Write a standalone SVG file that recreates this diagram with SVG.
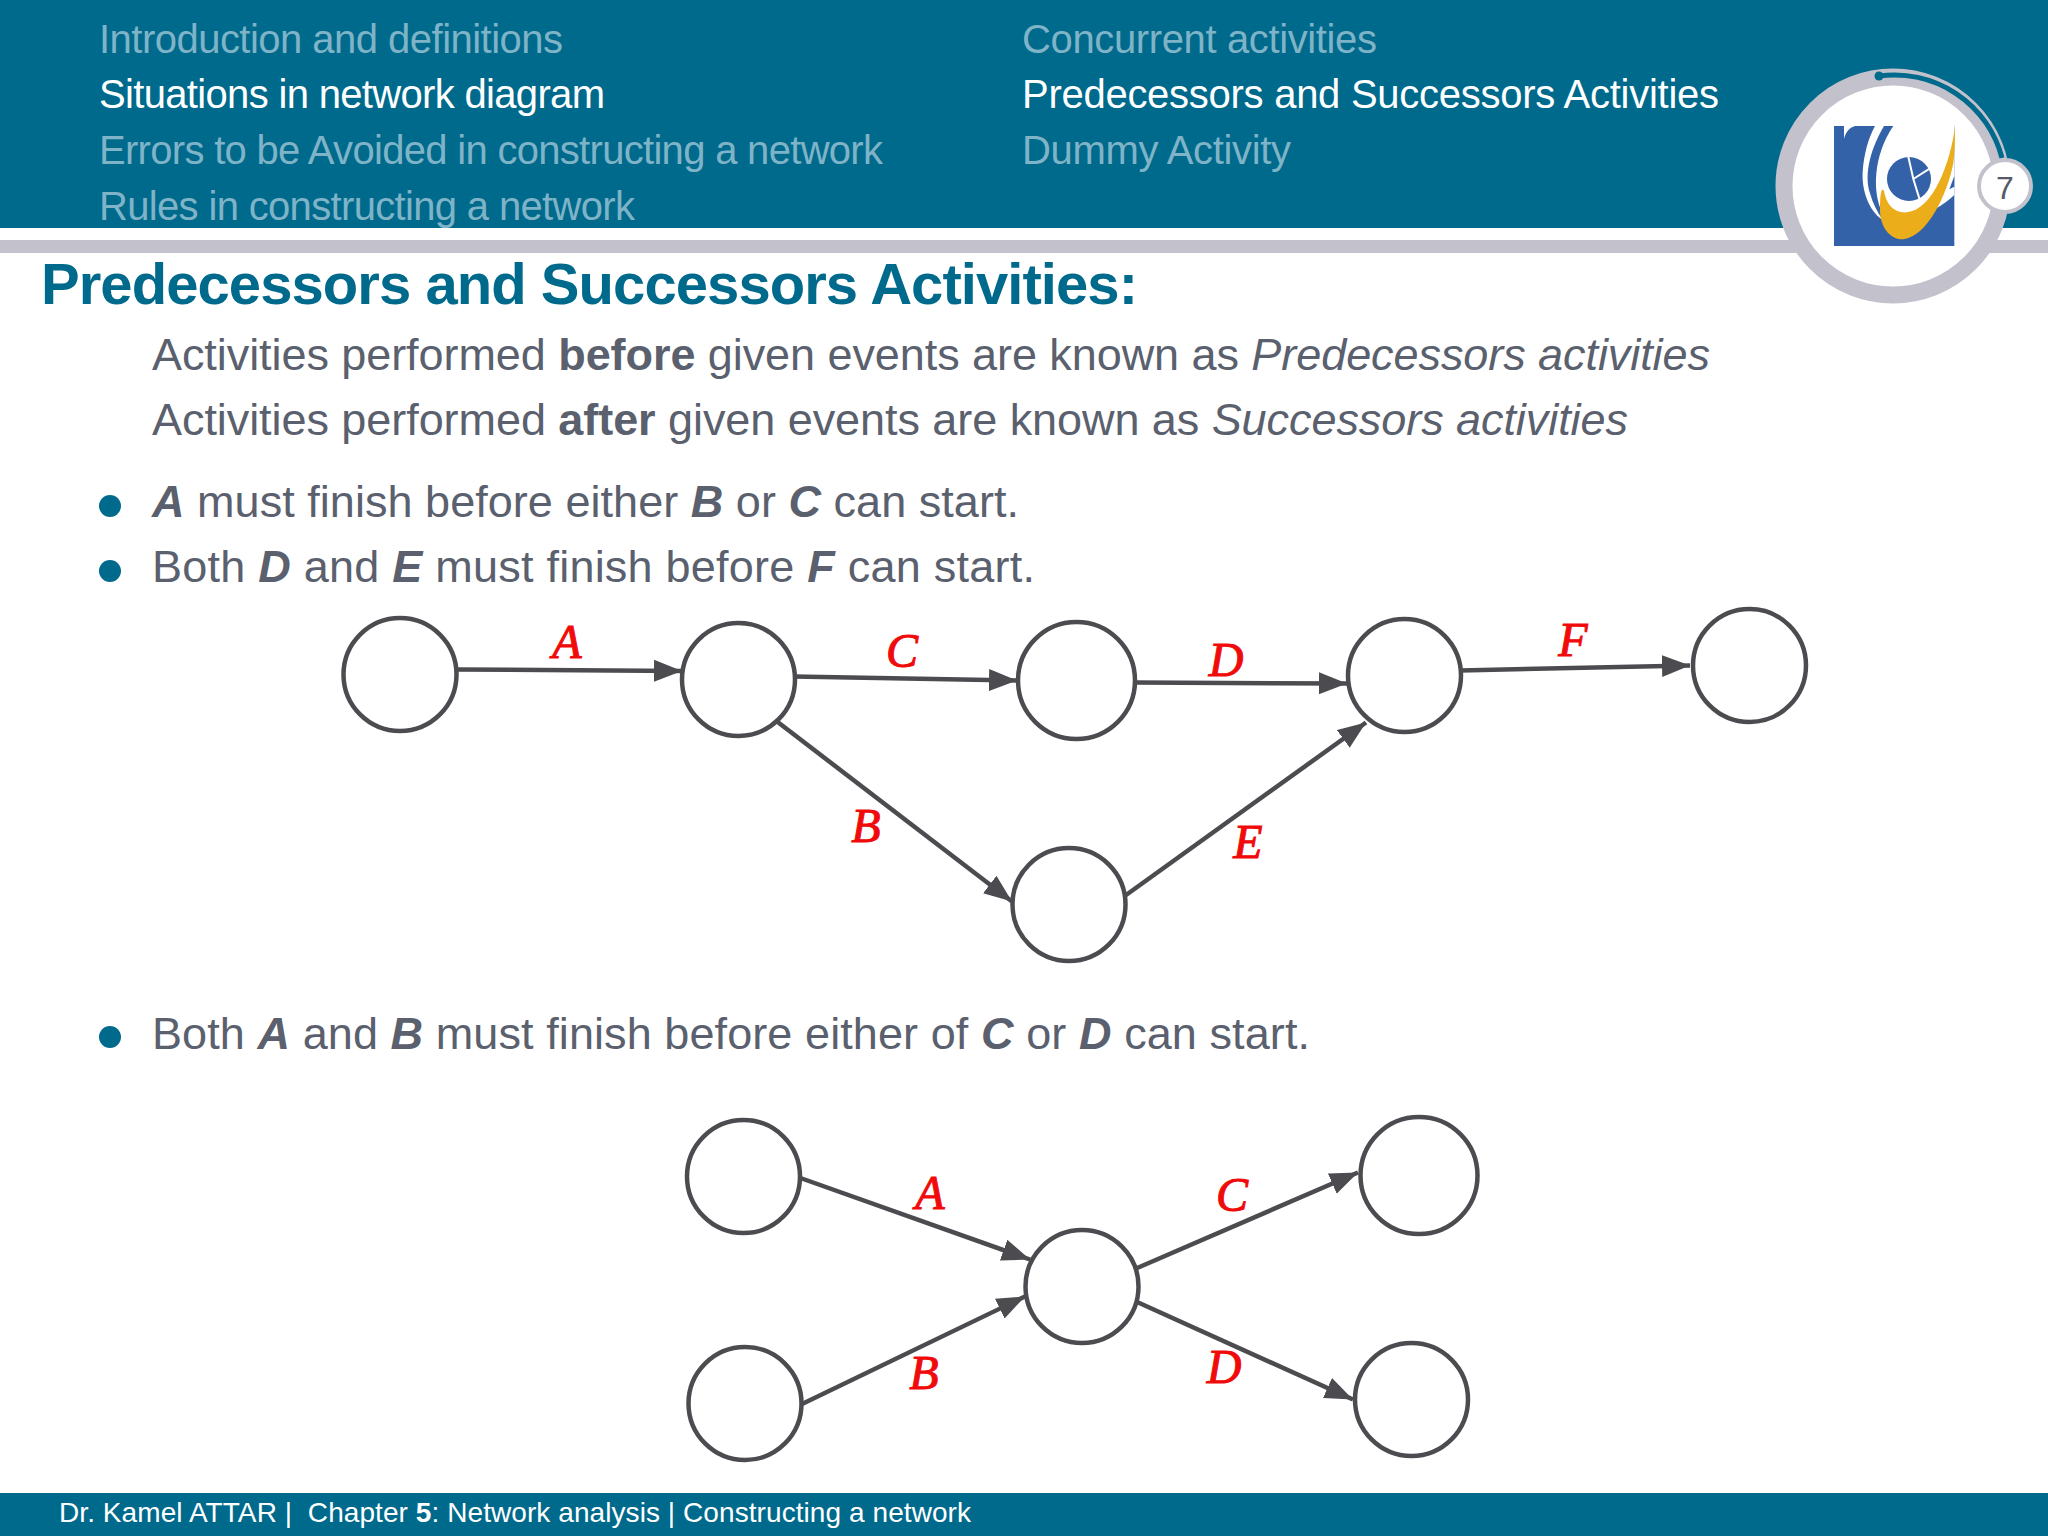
<svg xmlns="http://www.w3.org/2000/svg" width="2048" height="1536" viewBox="0 0 2048 1536">
<style>
text{font-family:"Liberation Sans",Arial,sans-serif;white-space:pre}
.nav{font-size:40px;fill:#7fb3c7}
.on{fill:#fff}
.body{font-size:45px;fill:#5a606d}
.b{font-weight:700}
.bi{font-weight:700;font-style:italic}
.i{font-style:italic}
.m{font-family:"Liberation Serif","Times New Roman",serif;font-style:italic;font-size:48px;fill:#f00a0a;text-anchor:middle;stroke:#f00a0a;stroke-width:1px}
.n{fill:#fff;stroke:#4c4c50;stroke-width:4.5px}
.c{stroke:#4c4c50;stroke-width:4.5px;fill:none;marker-end:url(#ah)}
.dot{fill:#006a8c}
</style>
<defs>
<marker id="ah" markerUnits="userSpaceOnUse" markerWidth="30" markerHeight="24" viewBox="0 0 30 24" refX="28" refY="12" orient="auto"><path d="M0,1 L28,12 L0,23 Z" fill="#4c4c50"/></marker>
</defs>
<rect width="2048" height="1536" fill="#fff"/>
<g id="header">
<rect width="2048" height="228" fill="#006a8c"/>
<rect y="240" width="2048" height="13" fill="#c3c1cc"/>
<text class="nav" x="99" y="53" textLength="464">Introduction and definitions</text>
<text class="nav on" x="99" y="108" textLength="506">Situations in network diagram</text>
<text class="nav" x="99" y="164" textLength="784">Errors to be Avoided in constructing a network</text>
<text class="nav" x="99" y="220" textLength="536">Rules in constructing a network</text>
<text class="nav" x="1022" y="53" textLength="355">Concurrent activities</text>
<text class="nav on" x="1022" y="108" textLength="697">Predecessors and Successors Activities</text>
<text class="nav" x="1022" y="164" textLength="269">Dummy Activity</text>
</g>
<g id="logo-badge">
<circle cx="1893" cy="186" r="109" fill="#fff" stroke="#c3c1cc" stroke-width="17"/>
<path d="M1879,76 A111,111 0 0 1 2002,158" fill="none" stroke="#006a8c" stroke-width="5"/>
<circle cx="1879" cy="76" r="4.500" fill="#006a8c"/>
<g transform="translate(1700,40) scale(.33333)">
<rect x="402" y="258" width="361" height="360" fill="#3462a8"/>
<path d="M432,297 C437,275 450,262 465,258 H432 Z" fill="#fff"/>
<path d="M525,258 H552 C515,320 490,400 510,460 C518,490 532,515 548,540 C505,510 485,450 488,395 C492,340 505,295 525,258 Z" fill="#fff"/>
<path d="M580,258 H763 V465 C730,495 690,520 640,535 L548,520 C515,460 520,345 580,258 Z" fill="#fff"/>
<path d="M763,408 V440 L748,448 Z" fill="#3462a8"/>
<circle cx="627" cy="417" r="66" fill="#3462a8"/>
<path d="M625,350 L640,417 L660,482 M640,417 L690,385" fill="none" stroke="#fff" stroke-width="6"/>
<path d="M765,262 C750,370 700,510 620,517 C580,520 558,490 552,452 C545,442 540,455 540,510 C540,560 570,600 610,598 C680,590 740,470 760,370 C765,330 765,290 765,262 Z" fill="#ecad1b"/>
</g>
<circle cx="2005" cy="186" r="26" fill="#fff" stroke="#c3c1cc" stroke-width="4"/>
<text x="2005" y="199" font-size="32" fill="#555a66" text-anchor="middle">7</text>
</g>
<g id="content">
<text x="41" y="304" font-size="58" font-weight="700" fill="#006a8c" textLength="1097">Predecessors and Successors Activities:</text>
<text class="body" x="152" y="370" textLength="1558">Activities performed <tspan class="b">before</tspan> given events are known as <tspan class="i">Predecessors activities</tspan></text>
<text class="body" x="152" y="435" textLength="1476">Activities performed <tspan class="b">after</tspan> given events are known as <tspan class="i">Successors activities</tspan></text>
<circle class="dot" cx="110" cy="506" r="11"/>
<text class="body" x="152" y="517" textLength="867"><tspan class="bi">A</tspan> must finish before either <tspan class="bi">B</tspan> or <tspan class="bi">C</tspan> can start.</text>
<circle class="dot" cx="110" cy="571" r="11"/>
<text class="body" x="152" y="582" textLength="883">Both <tspan class="bi">D</tspan> and <tspan class="bi">E</tspan> must finish before <tspan class="bi">F</tspan> can start.</text>
<circle class="dot" cx="110" cy="1037" r="11"/>
<text class="body" x="152" y="1049" textLength="1158">Both <tspan class="bi">A</tspan> and <tspan class="bi">B</tspan> must finish before either of <tspan class="bi">C</tspan> or <tspan class="bi">D</tspan> can start.</text>
</g>
<g id="connectors">
<line class="c" x1="457" y1="669.500" x2="682" y2="671"/>
<line class="c" x1="794" y1="676.500" x2="1017" y2="680.500"/>
<line class="c" x1="1135" y1="682.500" x2="1347" y2="683.500"/>
<line class="c" x1="1460" y1="670.500" x2="1690" y2="665.500"/>
<line class="c" x1="777" y1="721.500" x2="1012" y2="901.500"/>
<line class="c" x1="1124" y1="896.500" x2="1366" y2="722.500"/>
<line class="c" x1="799" y1="1177.500" x2="1030" y2="1259.500"/>
<line class="c" x1="801" y1="1404.500" x2="1025" y2="1296.500"/>
<line class="c" x1="1136" y1="1268.500" x2="1358" y2="1172.500"/>
<line class="c" x1="1136" y1="1301.500" x2="1353" y2="1399.500"/>
</g>
<g id="node-1"><circle class="n" cx="400" cy="674.500" r="56.500"/></g>
<g id="node-2"><circle class="n" cx="738.500" cy="679.500" r="56.500"/></g>
<g id="node-3"><circle class="n" cx="1076.500" cy="680.500" r="58.500"/></g>
<g id="node-4"><circle class="n" cx="1404.500" cy="675.500" r="56.500"/></g>
<g id="node-5"><circle class="n" cx="1749.500" cy="665.500" r="56.500"/></g>
<g id="node-6"><circle class="n" cx="1069" cy="904.500" r="56.500"/></g>
<g id="node-7"><circle class="n" cx="743.500" cy="1176.500" r="56.500"/></g>
<g id="node-8"><circle class="n" cx="745" cy="1403.500" r="56.500"/></g>
<g id="node-9"><circle class="n" cx="1082" cy="1286.500" r="56.500"/></g>
<g id="node-10"><circle class="n" cx="1419" cy="1175.500" r="58.500"/></g>
<g id="node-11"><circle class="n" cx="1411.500" cy="1399.500" r="56.500"/></g>
<g id="labels">
<text class="m" x="567" y="658">A</text>
<text class="m" x="902" y="667">C</text>
<text class="m" x="1226" y="676">D</text>
<text class="m" x="1573" y="656">F</text>
<text class="m" x="866" y="842">B</text>
<text class="m" x="1248" y="858">E</text>
<text class="m" x="930" y="1209">A</text>
<text class="m" x="1232" y="1211">C</text>
<text class="m" x="924" y="1389">B</text>
<text class="m" x="1224" y="1383">D</text>
</g>
<g id="footer">
<rect y="1493" width="2048" height="43" fill="#006a8c"/>
<text x="59" y="1522" font-size="28" fill="#fff" textLength="912">Dr. Kamel ATTAR |  Chapter <tspan class="b">5</tspan>: Network analysis | Constructing a network</text>
</g>
</svg>
